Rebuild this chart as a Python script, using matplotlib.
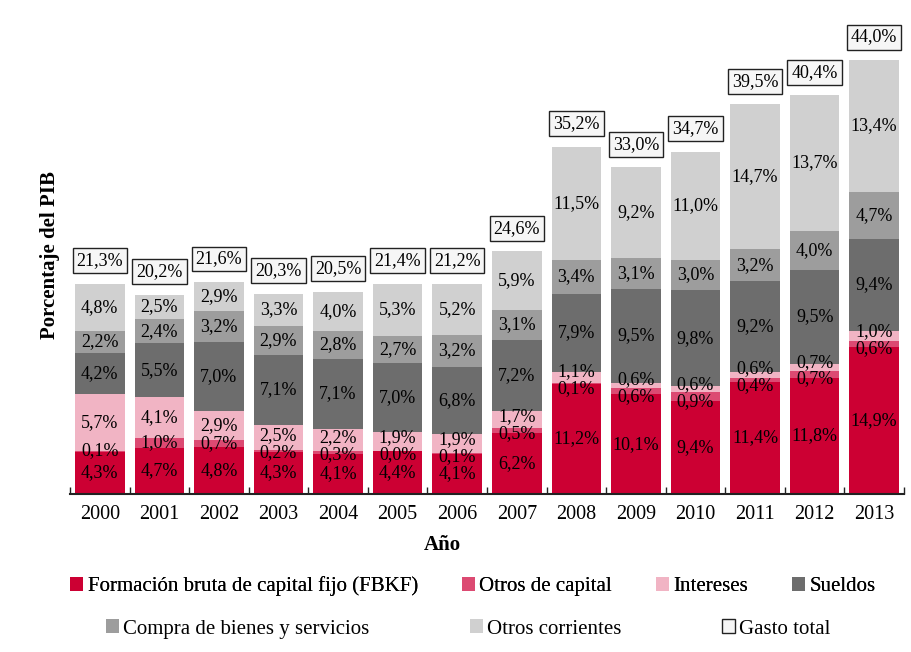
import numpy as np
import matplotlib
matplotlib.use("Agg")
import matplotlib.pyplot as plt
from matplotlib.patches import Patch

plt.rcParams["font.family"] = ["Liberation Serif", "DejaVu Serif"]

# Gasto público por componente, % del PIB
years = ["2000", "2001", "2002", "2003", "2004", "2005", "2006",
         "2007", "2008", "2009", "2010", "2011", "2012", "2013"]
fbkf = [4.3, 4.7, 4.8, 4.3, 4.1, 4.4, 4.1, 6.2, 11.2, 10.1, 9.4, 11.4, 11.8, 14.9]
otros_capital = [0.1, 1.0, 0.7, 0.2, 0.3, 0.0, 0.1, 0.5, 0.1, 0.6, 0.9, 0.4, 0.7, 0.6]
intereses = [5.7, 4.1, 2.9, 2.5, 2.2, 1.9, 1.9, 1.7, 1.1, 0.6, 0.6, 0.6, 0.7, 1.0]
sueldos = [4.2, 5.5, 7.0, 7.1, 7.1, 7.0, 6.8, 7.2, 7.9, 9.5, 9.8, 9.2, 9.5, 9.4]
compra = [2.2, 2.4, 3.2, 2.9, 2.8, 2.7, 3.2, 3.1, 3.4, 3.1, 3.0, 3.2, 4.0, 4.7]
otros_corr = [4.8, 2.5, 2.9, 3.3, 4.0, 5.3, 5.2, 5.9, 11.5, 9.2, 11.0, 14.7, 13.7, 13.4]
gasto_total = [21.3, 20.2, 21.6, 20.3, 20.5, 21.4, 21.2, 24.6, 35.2, 33.0, 34.7, 39.5, 40.4, 44.0]

series = [
    ("Formación bruta de capital fijo (FBKF)", fbkf, "#cc0033"),
    ("Otros de capital", otros_capital, "#dc4a72"),
    ("Intereses", intereses, "#f1b4c4"),
    ("Sueldos", sueldos, "#6d6d6d"),
    ("Compra de bienes y servicios", compra, "#9d9d9d"),
    ("Otros corrientes", otros_corr, "#d0d0d0"),
]


def fmt(v):
    return f"{v:.1f}%".replace(".", ",")


fig = plt.figure(figsize=(9.11, 6.52), dpi=100)
ax = fig.add_axes([70 / 911, 1 - 494 / 652, 834 / 911, 474 / 652])

x = np.arange(len(years))
bottom = np.zeros(len(years))
handles = []
label_pos = []   # per series: centre of each segment
for name, vals, color in series:
    vals = np.array(vals)
    ax.bar(x, vals, bottom=bottom, width=0.83, color=color, edgecolor="none")
    label_pos.append(bottom + vals / 2)
    bottom += vals
    handles.append(Patch(facecolor=color, edgecolor="none", label=name))

# spread labels of thin segments apart so they stay readable
sep = 1.7
pos = np.array(label_pos)
for _ in range(60):
    for i in range(len(series) - 1):
        gap = pos[i + 1] - pos[i]
        push = np.where(gap < sep, (sep - gap) / 2, 0)
        pos[i] -= push
        pos[i + 1] += push

for k, (name, vals, color) in enumerate(series):
    for xi, yp, v in zip(x, pos[k], vals):
        ax.text(xi, yp, fmt(v), ha="center", va="center", fontsize=13, color="black")

for xi, top, t in zip(x, bottom, gasto_total):
    ax.annotate(fmt(t), (xi, top), xytext=(0, 16.5),
                textcoords="offset points", ha="center", va="center", fontsize=13,
                bbox=dict(boxstyle="square,pad=0.22", facecolor="#f6f6f6",
                          edgecolor="#222222", linewidth=1.0))

ax.set_xlim(-0.5, len(years) - 0.5)
ax.set_ylim(0, 48.05)
ax.set_yticks([])
for s in ["left", "right", "top"]:
    ax.spines[s].set_visible(False)
ax.spines["bottom"].set_linewidth(1.5)
ax.spines["bottom"].set_color("#222222")

ax.set_xticks(x)
ax.set_xticklabels(years, fontsize=14.5)
ax.tick_params(axis="x", which="major", length=0, pad=8)
ax.set_xticks(np.arange(-0.5, len(years)), minor=True)
ax.tick_params(axis="x", which="minor", direction="in", length=5, width=1, color="#222222")

fig.text(442 / 911, 1 - 545 / 652, "Año", ha="center", va="center",
         fontsize=15, fontweight="bold")
fig.text(50 / 911, 1 - 255 / 652, "Porcentaje del PIB", rotation=90, ha="center",
         va="center", fontsize=15, fontweight="bold")

leg1 = fig.legend(handles=handles[:4], loc="center", bbox_to_anchor=(0.519, 1 - 586 / 652),
                  ncol=4, frameon=False, fontsize=15, handlelength=0.65, handleheight=0.65,
                  handletextpad=0.2, columnspacing=2.1)
total_handle = Patch(facecolor="#f6f6f6", edgecolor="#222222", linewidth=1.0, label="Gasto total")
leg2 = fig.legend(handles=handles[4:] + [total_handle], loc="center",
                  bbox_to_anchor=(0.514, 1 - 629 / 652), ncol=3, frameon=False, fontsize=15,
                  handlelength=0.65, handleheight=0.65, handletextpad=0.2, columnspacing=4.8)
fig.add_artist(leg1)

fig.savefig("out.png", dpi=100)
